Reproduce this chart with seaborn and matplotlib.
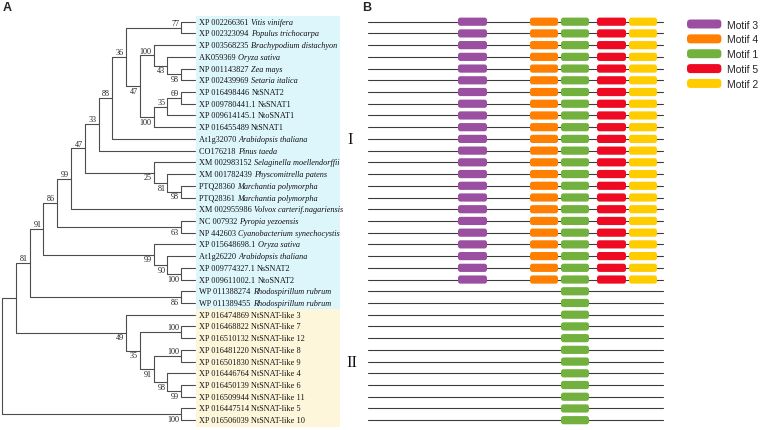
import numpy as np
import pandas as pd
import matplotlib
matplotlib.use("Agg")
import matplotlib.pyplot as plt
import seaborn as sns
from matplotlib.patches import FancyBboxPatch, Patch
from matplotlib.legend_handler import HandlerPatch

# ---------------- data ----------------
accessions = ["XP 002266361", "XP 002323094", "XP 003568235", "AK059369", "NP 001143827",
              "XP 002439969", "XP 016498446", "XP 009780441.1", "XP 009614145.1", "XP 016455489",
              "At1g32070", "CO176218", "XM 002983152", "XM 001782439", "PTQ28360",
              "PTQ28361", "XM 002955986", "NC 007932", "NP 442603", "XP 015648698.1",
              "At1g26220", "XP 009774327.1", "XP 009611002.1", "WP 011388274", "WP 011389455",
              "XP 016474869", "XP 016468822", "XP 016510132", "XP 016481220", "XP 016501830",
              "XP 016446764", "XP 016450139", "XP 016509944", "XP 016447514", "XP 016506039"]
names = ["Vitis vinifera", "Populus trichocarpa", "Brachypodium distachyon", "Oryza sativa", "Zea mays",
         "Setaria italica", "NtSNAT2", "NsSNAT1", "NtoSNAT1", "NtSNAT1",
         "Arabidopsis thaliana", "Pinus taeda", "Selaginella moellendorffii", "Physcomitrella patens",
         "Marchantia polymorpha", "Marchantia polymorpha", "Volvox carterif.nagariensis",
         "Pyropia yezoensis", "Cyanobacterium synechocystis", "Oryza sativa",
         "Arabidopsis thaliana", "NsSNAT2", "NtoSNAT2", "Rhodospirillum rubrum", "Rhodospirillum rubrum",
         "NtSNAT-like 3", "NtSNAT-like 7", "NtSNAT-like 12", "NtSNAT-like 8", "NtSNAT-like 9",
         "NtSNAT-like 4", "NtSNAT-like 6", "NtSNAT-like 11", "NtSNAT-like 5", "NtSNAT-like 10"]
group_sizes = {"I": 25, "II": 10}

# topology (leaf = row index) with bootstrap support values
tree_newick = ("(((((((((((0,1)77,((2,(3,(4,5)98)43)100,(((6,7)69,8)35,9)100)47)36,10)88,11)33,"
               "(12,(13,(14,15)98)81)25)47,16)99,(17,18)63)86,(19,(20,(21,22)100)90)99)91,"
               "(23,24)86)81,(25,((26,27)100,((28,29)100,(30,(31,32)99)98)91)35)49),(33,34)100);")

seq_length = 295
motif_labels = ["Motif 3", "Motif 4", "Motif 1", "Motif 5", "Motif 2"]
motif_start = {"Motif 3": 90, "Motif 4": 162, "Motif 1": 193, "Motif 5": 229, "Motif 2": 261}
motif_end = {"Motif 3": 119, "Motif 4": 190, "Motif 1": 221, "Motif 5": 258, "Motif 2": 289}
motif_colors = {"Motif 3": "#9A4FA0", "Motif 4": "#FF7F00", "Motif 1": "#72B13E",
                "Motif 5": "#EE0A22", "Motif 2": "#FFCC00"}
row_motifs = [["Motif 3", "Motif 4", "Motif 1", "Motif 5", "Motif 2"]] * 23 + [["Motif 1"]] * 12

# ---------------- tree parsing / layout ----------------
def parse_newick(s):
    pos = 0
    def node():
        nonlocal pos
        if s[pos] == "(":
            pos += 1
            kids = [node()]
            while s[pos] == ",":
                pos += 1
                kids.append(node())
            pos += 1  # ')'
            lab = ""
            while pos < len(s) and s[pos] not in ",();":
                lab += s[pos]; pos += 1
            return {"children": kids, "support": lab}
        lab = ""
        while s[pos] not in ",();":
            lab += s[pos]; pos += 1
        return {"leaf": int(lab)}
    return node()

def layout(n):
    if "leaf" in n:
        n["h"], n["y"] = 0, float(n["leaf"])
        return
    for c in n["children"]:
        layout(c)
    n["h"] = max(c["h"] for c in n["children"]) + 1
    n["y"] = (n["children"][0]["y"] + n["children"][-1]["y"]) / 2

root = parse_newick(tree_newick)
layout(root)
H = root["h"]

segs, supports = [], []
def walk(n):
    if "leaf" in n:
        return
    xn = H - n["h"]
    for i, c in enumerate(n["children"]):
        xc = H - c["h"]
        sid = len(segs)
        segs.extend([(xn, n["y"], sid), (xn, c["y"], sid), (xc, c["y"], sid)])
        if "children" in c and c["support"]:
            supports.append((xc, c["y"], c["support"], i == 0))
        walk(c)
walk(root)
seg_df = pd.DataFrame(segs, columns=["x", "y", "seg"])
n_rows = len(accessions)

# ---------------- figure ----------------
sns.set_theme(style="white")
plt.rcParams["font.family"] = ["Liberation Serif", "DejaVu Sans"]

W, Hpx = 760, 431
fig = plt.figure(figsize=(W / 100, Hpx / 100), dpi=100)

row0_px, row_step = 22.7, 11.72
ylim = ((Hpx - row0_px) / row_step, -row0_px / row_step)

# tree axes
tree_l, tree_r = 2.0, 195.0
lvl = (tree_r - tree_l) / H
ax = fig.add_axes([0, 0, 1, 1])
ax.set_xlim(-tree_l / lvl, (W - tree_l) / lvl)
ax.set_ylim(*ylim)
ax.axis("off")

nI = group_sizes["I"]
ax.axhspan(-0.45, nI - 0.5, xmin=196 / W, xmax=340 / W, color="#DDF6FC", zorder=0, lw=0)
ax.axhspan(nI - 0.5, n_rows - 0.45, xmin=196 / W, xmax=340 / W, color="#FEF6DA", zorder=0, lw=0)

sns.lineplot(data=seg_df, x="x", y="y", units="seg", estimator=None, sort=False,
             color="#4d4d4d", lw=0.8, ax=ax, legend=False)
ax.set_xlabel(""); ax.set_ylabel("")

for xs, ys, lab, upper in supports:
    ax.annotate(lab, xy=(xs, ys), xytext=(-1.5, 0.6 if upper else -0.6), textcoords="offset points",
                ha="right", va="bottom" if upper else "top", fontsize=5.9, color="#222222")

for i, (acc, nm) in enumerate(zip(accessions, names)):
    t1 = ax.annotate(acc + " ", xy=(H, i), xytext=(3, 0), textcoords="offset points",
                     ha="left", va="center", fontsize=5.95, color="#111111")
    ax.annotate(nm, xy=(1, 0), xycoords=t1, ha="left", va="bottom", fontsize=5.95,
                color="#111111", style="normal" if "SNAT" in nm else "italic")

# motif axes
ax2 = fig.add_axes([0, 0, 1, 1])
ax2.patch.set_alpha(0)
ax2.set_xlim(-368, W - 368)
ax2.set_ylim(*ylim)
ax2.axis("off")

line_df = pd.DataFrame([(x, r, r) for r in range(n_rows) for x in (0, seq_length)],
                       columns=["x", "y", "row"])
sns.lineplot(data=line_df, x="x", y="y", units="row", estimator=None, sort=False,
             color="#3c3c3c", lw=0.8, ax=ax2, legend=False)
ax2.set_xlabel(""); ax2.set_ylabel("")

box_h = 0.7
for r, ms in enumerate(row_motifs):
    for m in ms:
        ax2.add_patch(FancyBboxPatch((motif_start[m], r - box_h / 2), motif_end[m] - motif_start[m], box_h,
                                     boxstyle="round,pad=0,rounding_size=2.5",
                                     mutation_aspect=1 / row_step, fc=motif_colors[m], ec="none",
                                     zorder=3))

ax2.text(-18, 10, "I", ha="center", va="center", fontsize=12, color="#111111")
ax2.text(-16, 29, "II", ha="center", va="center", fontsize=12, color="#111111")

def rounded(legend, orig_handle, xdescent, ydescent, width, height, fontsize):
    return FancyBboxPatch((-xdescent, -ydescent), width, height,
                          boxstyle="round,pad=0,rounding_size=2.5")

order = ["Motif 3", "Motif 4", "Motif 1", "Motif 5", "Motif 2"]
handles = [Patch(facecolor=motif_colors[m], edgecolor="none", label=m) for m in order]
fig.legend(handles=handles, loc="upper left", bbox_to_anchor=(687 / W, 1 - 20.5 / Hpx),
           bbox_transform=fig.transFigure, frameon=False, borderaxespad=0, borderpad=0,
           handlelength=3.3, handleheight=0.95, labelspacing=0.46, handletextpad=0.55,
           prop={"family": "Liberation Sans", "size": 7.5},
           handler_map={Patch: HandlerPatch(patch_func=rounded)})

fig.text(3 / W, 1 - 2 / Hpx, "A", ha="left", va="top", fontsize=9, fontweight="bold",
         family="Liberation Sans")
fig.text(362 / W, 1 - 2 / Hpx, "B", ha="left", va="top", fontsize=9, fontweight="bold",
         family="Liberation Sans")

fig.savefig("out.png", dpi=100)
